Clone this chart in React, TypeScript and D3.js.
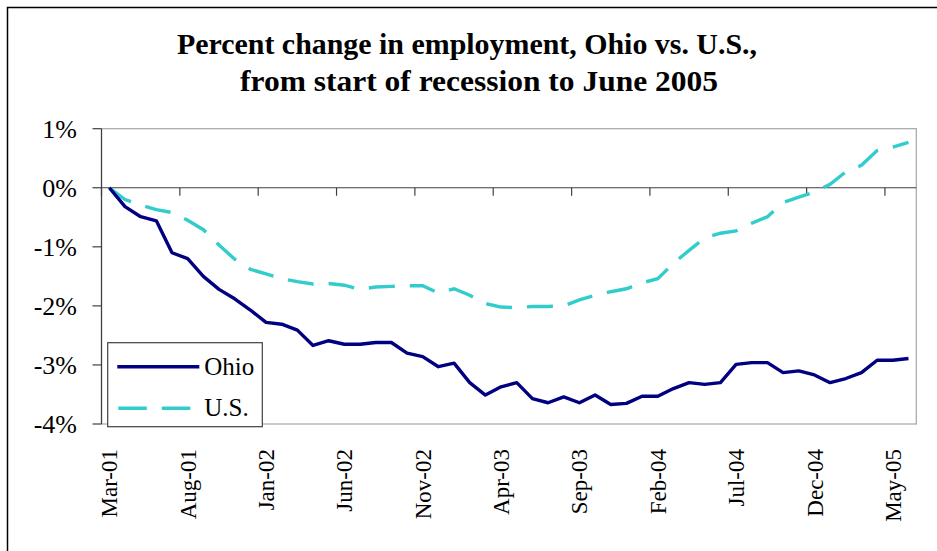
import React from "react";
import * as d3 from "d3";

// Categories: monthly, Mar-01 .. Jun-05
const months: string[] = d3
  .timeMonth.range(new Date(2001, 2, 1), new Date(2005, 6, 1))
  .map(d3.timeFormat("%b-%y"));

const tickLabels = ["Mar-01", "Aug-01", "Jan-02", "Jun-02", "Nov-02", "Apr-03", "Sep-03", "Feb-04", "Jul-04", "Dec-04", "May-05"];
const yTicks = [1, 0, -1, -2, -3, -4];

const ohio = [0, -0.32, -0.49, -0.56, -1.1, -1.2, -1.5, -1.72, -1.88, -2.07, -2.28, -2.31, -2.41, -2.67, -2.59, -2.65, -2.65, -2.62, -2.62, -2.8, -2.86, -3.03, -2.97, -3.3, -3.51, -3.37, -3.3, -3.57, -3.64, -3.54, -3.64, -3.51, -3.67, -3.65, -3.53, -3.53, -3.4, -3.3, -3.33, -3.3, -2.99, -2.96, -2.96, -3.13, -3.1, -3.17, -3.3, -3.23, -3.13, -2.92, -2.92, -2.89];
const us = [0, -0.2, -0.29, -0.37, -0.42, -0.55, -0.71, -0.97, -1.21, -1.38, -1.46, -1.54, -1.59, -1.63, -1.62, -1.65, -1.72, -1.68, -1.67, -1.66, -1.66, -1.78, -1.71, -1.82, -1.96, -2.02, -2.03, -2.01, -2.01, -2.0, -1.9, -1.82, -1.76, -1.71, -1.61, -1.54, -1.28, -1.06, -0.85, -0.77, -0.73, -0.6, -0.49, -0.25, -0.16, -0.07, 0.06, 0.27, 0.38, 0.63, 0.69, 0.77];

const titleLines = ["Percent change in employment, Ohio vs. U.S.,", "from start of recession to June 2005"];
const seriesNames = ["Ohio", "U.S."];
const OHIO_COLOR = "#000080";
const US_COLOR = "#33CCCC";

export default function App() {
  const W = 937, H = 551;
  const left = 101.5, right = 916.3, top = 128.7, bottom = 424;
  const x = d3.scaleBand<string>().domain(months).range([left, right]).padding(0);
  const y = d3.scaleLinear().domain([-4, 1]).range([bottom, top]);
  const cx = (m: string) => (x(m) as number) + x.bandwidth() / 2;

  const line = d3
    .line<number>()
    .x((_, i) => cx(months[i]))
    .y((v) => y(v));

  const serif = "Liberation Serif";
  const y0 = y(0);

  return (
    <svg width={W} height={H} style={{ position: "absolute", left: 0, top: 0, background: "#fff", fontFamily: "\"Liberation Serif\", \"Times New Roman\", Tinos, serif" }}>
      <rect x={0} y={0} width={W} height={H} fill="#fff" />
      {/* outer frame */}
      <path d={`M7.5,${H + 2} L7.5,7.5 L${W + 2},7.5`} fill="none" stroke="#000" strokeWidth={1.5} />

      {/* title */}
      <g fontFamily={serif}>
        <text x={177} y={54} fontSize={30} fontWeight="bold" textLength={580} lengthAdjust="spacingAndGlyphs">
          {titleLines[0]}
        </text>
        <text x={240} y={91} fontSize={30} fontWeight="bold" textLength={478} lengthAdjust="spacingAndGlyphs">
          {titleLines[1]}
        </text>
      </g>

      {/* plot area border */}
      <rect x={left} y={top} width={right - left} height={bottom - top} fill="none" stroke="#a6a6a6" strokeWidth={1.2} />

      {/* y axis */}
      <line x1={left} x2={left} y1={top} y2={bottom} stroke="#404040" strokeWidth={1.2} />
      {yTicks.map((t) => (
        <g key={t}>
          <line x1={left - 9} x2={left} y1={y(t)} y2={y(t)} stroke="#404040" strokeWidth={1.2} />
          <text x={77} y={y(t)} dy="0.35em" textAnchor="end" fontSize={26} fontFamily={serif}>
            {`${t}%`}
          </text>
        </g>
      ))}

      {/* x axis at 0 */}
      <line x1={left} x2={right} y1={y0} y2={y0} stroke="#404040" strokeWidth={1.2} />
      {months.map((m, i) =>
        i % 5 === 0 ? (
          <line key={m} x1={x(m) as number} x2={x(m) as number} y1={y0} y2={y0 + 8} stroke="#404040" strokeWidth={1.2} />
        ) : null
      )}
      {tickLabels.map((lab) => (
        <text
          key={lab}
          transform={`translate(${cx(lab)},449) rotate(-90)`}
          dy="0.35em"
          textAnchor="end"
          fontSize={23}
          fontFamily={serif}
        >
          {lab}
        </text>
      ))}

      {/* series */}
      <path d={line(us) as string} fill="none" stroke={US_COLOR} strokeWidth={3.4} strokeDasharray="26 15" />
      <path d={line(ohio) as string} fill="none" stroke={OHIO_COLOR} strokeWidth={3.4} strokeLinejoin="round" />

      {/* legend */}
      <rect x={107.7} y={342.7} width={154.6} height={84} fill="#fff" stroke="#404040" strokeWidth={1.2} />
      <line x1={117.3} x2={199.3} y1={366.7} y2={366.7} stroke={OHIO_COLOR} strokeWidth={3.4} />
      <text x={204.3} y={374.5} fontSize={25} fontFamily={serif}>{seriesNames[0]}</text>
      <line x1={118.3} x2={191} y1={408.3} y2={408.3} stroke={US_COLOR} strokeWidth={3.4} strokeDasharray="28.5 15" />
      <text x={204.3} y={416} fontSize={25} fontFamily={serif}>{seriesNames[1]}</text>
    </svg>
  );
}
